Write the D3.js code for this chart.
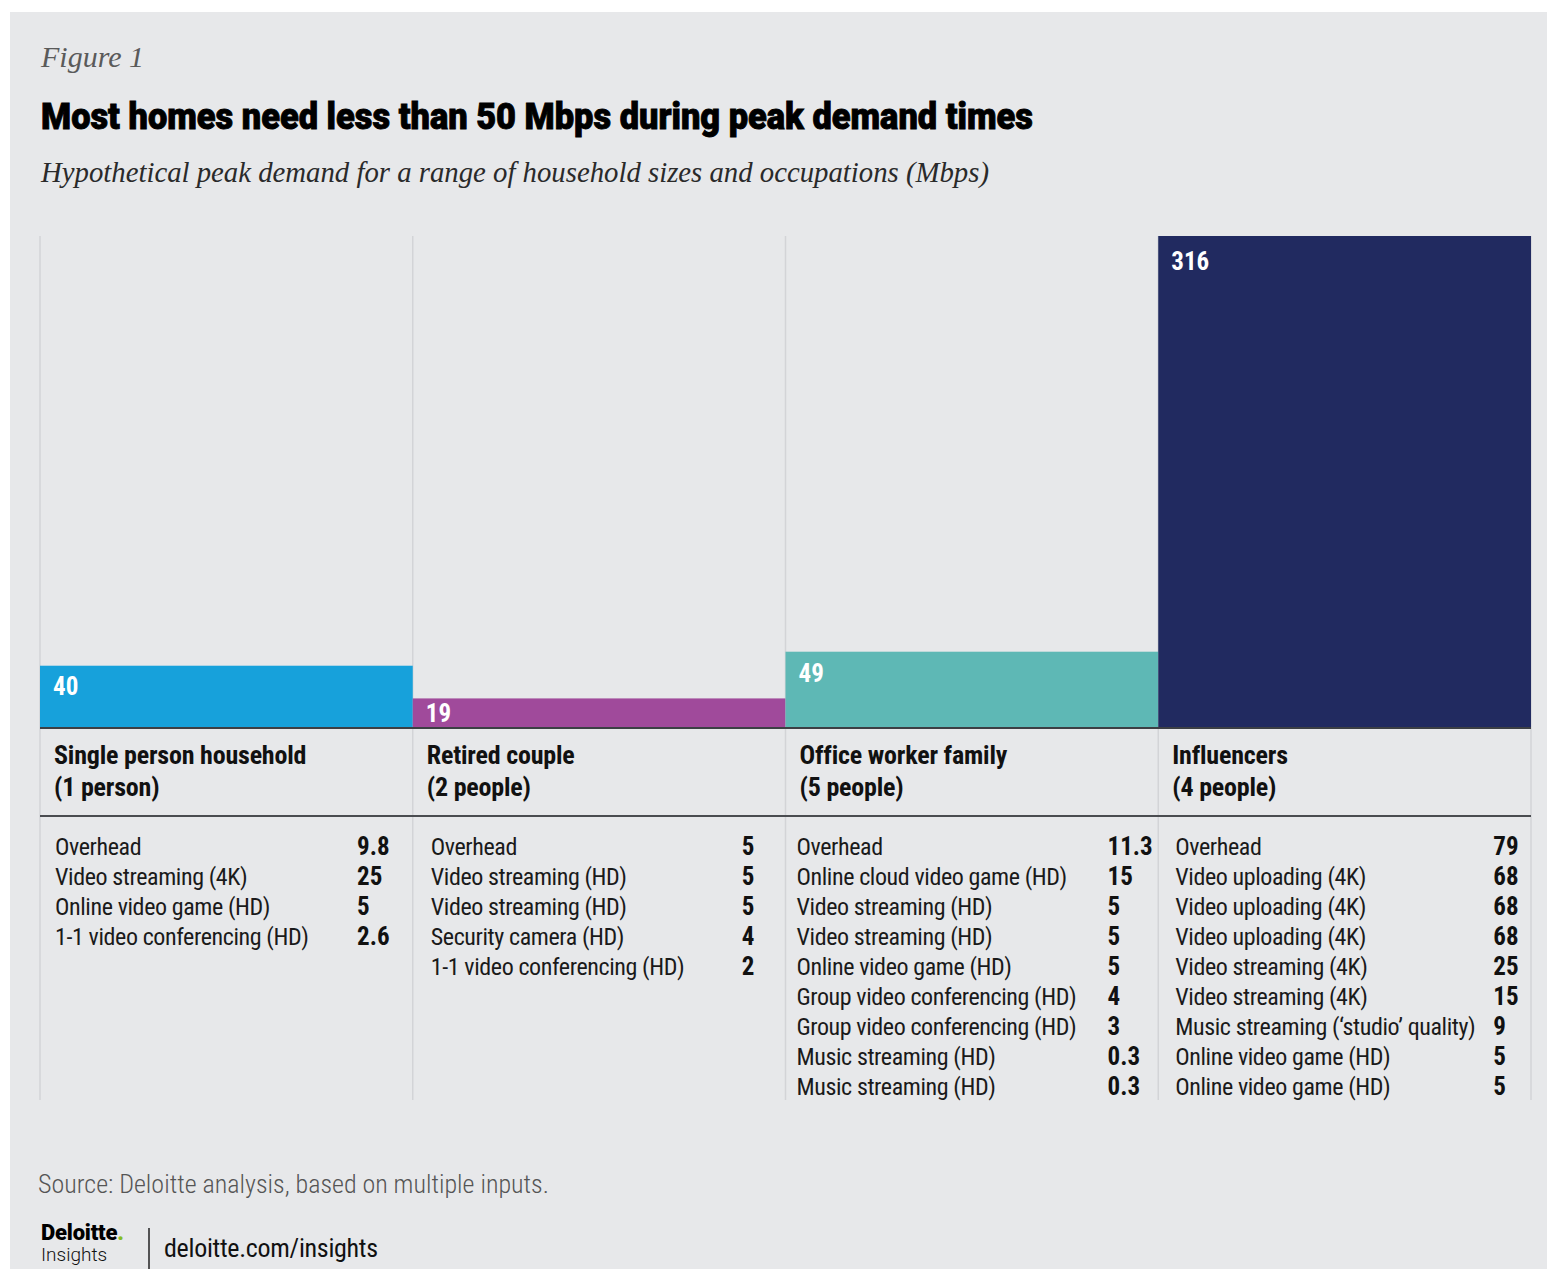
<!DOCTYPE html>
<html>
<head>
<meta charset="utf-8">
<script src="https://cdn.jsdelivr.net/npm/d3@7"></script>
<style>
  html, body { margin: 0; padding: 0; background: #ffffff; }
  svg { display: block; }
  .cond { font-family: "Liberation Sans Narrow", "Roboto Condensed", Roboto, sans-serif; }
  .serif { font-family: "Liberation Serif", "DejaVu Serif", serif; font-style: italic; }
</style>
</head>
<body>
<svg id="chart" width="1547" height="1269"></svg>
<script>
// Households and their peak demand totals (Mbps)
const households = ["Single person household", "Retired couple", "Office worker family", "Influencers"];
const householdSizes = ["(1 person)", "(2 people)", "(5 people)", "(4 people)"];
const peakDemand = [40, 19, 49, 316];
const barColors = ["#17a1db", "#a04a9b", "#5eb8b5", "#212a60"];

// Activity breakdown per household
const singleItems = ["Overhead", "Video streaming (4K)", "Online video game (HD)", "1-1 video conferencing (HD)"];
const singleValues = ["9.8", "25", "5", "2.6"];
const retiredItems = ["Overhead", "Video streaming (HD)", "Video streaming (HD)", "Security camera (HD)", "1-1 video conferencing (HD)"];
const retiredValues = ["5", "5", "5", "4", "2"];
const officeItems = ["Overhead", "Online cloud video game (HD)", "Video streaming (HD)", "Video streaming (HD)", "Online video game (HD)", "Group video conferencing (HD)", "Group video conferencing (HD)", "Music streaming (HD)", "Music streaming (HD)"];
const officeValues = ["11.3", "15", "5", "5", "5", "4", "3", "0.3", "0.3"];
const influencerItems = ["Overhead", "Video uploading (4K)", "Video uploading (4K)", "Video uploading (4K)", "Video streaming (4K)", "Video streaming (4K)", "Music streaming (\u2018studio\u2019 quality)", "Online video game (HD)", "Online video game (HD)"];
const influencerValues = ["79", "68", "68", "68", "25", "15", "9", "5", "5"];

const breakdown = [
  { items: singleItems, values: singleValues },
  { items: retiredItems, values: retiredValues },
  { items: officeItems, values: officeValues },
  { items: influencerItems, values: influencerValues }
];

const svg = d3.select("#chart");

// Panel background
svg.append("rect").attr("x", 10).attr("y", 12).attr("width", 1537).attr("height", 1257).attr("fill", "#e7e8ea");

// Headings
svg.append("text").attr("class", "serif").attr("x", 41).attr("y", 67)
  .attr("font-size", 30).attr("fill", "#5a5a5a").text("Figure 1");
svg.append("text").attr("x", 41).attr("y", 129)
  .attr("font-family", "Roboto, sans-serif").attr("font-weight", 900).attr("font-size", 37)
  .attr("fill", "#000").attr("stroke", "#000").attr("stroke-width", 0.9)
  .attr("textLength", 992).attr("lengthAdjust", "spacingAndGlyphs")
  .text("Most homes need less than 50 Mbps during peak demand times");
svg.append("text").attr("class", "serif").attr("x", 41).attr("y", 182)
  .attr("font-size", 29).attr("fill", "#2a2a2a").attr("textLength", 948).attr("lengthAdjust", "spacingAndGlyphs")
  .text("Hypothetical peak demand for a range of household sizes and occupations (Mbps)");

// Scales
const x = d3.scaleBand().domain(households).range([40, 1531]).padding(0);
const y = d3.scaleLinear().domain([0, 316]).range([728, 236]);

// Column separators
const edges = households.map(h => x(h)).concat([x.range()[1]]);
svg.append("g").selectAll("line").data(edges).join("line")
  .attr("x1", d => d).attr("x2", d => d).attr("y1", 236).attr("y2", 1100)
  .attr("stroke", "#d3d4d7").attr("stroke-width", 1.5);

// Bars
svg.append("g").selectAll("rect").data(households).join("rect")
  .attr("x", d => x(d)).attr("width", x.bandwidth())
  .attr("y", (d, i) => y(peakDemand[i]))
  .attr("height", (d, i) => y(0) - y(peakDemand[i]))
  .attr("fill", (d, i) => barColors[i]);

// Bar value labels
const labelDrop = [29, 24, 30, 34];
svg.append("g").selectAll("text").data(households).join("text")
  .attr("class", "cond")
  .attr("x", d => x(d) + 13)
  .attr("y", (d, i) => y(peakDemand[i]) + labelDrop[i])
  .attr("font-size", 25).attr("font-weight", 700).attr("fill", "#ffffff")
  .text((d, i) => peakDemand[i]);

// Baseline and header rule
svg.append("line").attr("x1", 40).attr("x2", 1531).attr("y1", y(0)).attr("y2", y(0))
  .attr("stroke", "#3c3f44").attr("stroke-width", 2);
svg.append("line").attr("x1", 40).attr("x2", 1531).attr("y1", 816).attr("y2", 816)
  .attr("stroke", "#4a4c50").attr("stroke-width", 2);

// Household names
const heads = svg.append("g").selectAll("text").data(households).join("text")
  .attr("class", "cond").attr("font-size", 26).attr("font-weight", 700).attr("fill", "#111")
  .attr("letter-spacing", -0.2);
heads.append("tspan").attr("x", d => x(d) + 14).attr("y", 764).text(d => d);
heads.append("tspan").attr("x", d => x(d) + 14).attr("y", 796).text((d, i) => householdSizes[i]);

// Activity tables
const itemOffsets = [15, 18, 11, 17];
const valueOffsets = [317, 329, 322, 335];
const rowStep = 30;
breakdown.forEach((col, ci) => {
  const g = svg.append("g");
  const x0 = x(households[ci]);
  g.selectAll("text.item").data(col.items).join("text")
    .attr("class", "cond item")
    .attr("x", x0 + itemOffsets[ci]).attr("y", (d, i) => 855 + i * rowStep)
    .attr("font-size", 24).attr("letter-spacing", -0.4).attr("fill", "#1a1a1a").text(d => d);
  g.selectAll("text.val").data(col.values).join("text")
    .attr("class", "cond val")
    .attr("x", x0 + valueOffsets[ci]).attr("y", (d, i) => 855 + i * rowStep)
    .attr("font-size", 25).attr("font-weight", 700).attr("fill", "#111").text(d => d);
});

// Footer
svg.append("text").attr("class", "cond").attr("x", 38).attr("y", 1193)
  .attr("font-size", 26).attr("font-weight", 300).attr("fill", "#555").text("Source: Deloitte analysis, based on multiple inputs.");
const logo = svg.append("text").attr("x", 41).attr("y", 1240)
  .attr("font-family", "Roboto, sans-serif").attr("font-size", 22).attr("font-weight", 900).attr("fill", "#000")
  .attr("letter-spacing", -0.2);
logo.append("tspan").text("Deloitte");
logo.append("tspan").attr("fill", "#86bc25").text(".");
svg.append("text").attr("x", 41).attr("y", 1261)
  .attr("font-family", "Roboto, sans-serif").attr("font-size", 19).attr("font-weight", 300).attr("fill", "#111")
  .text("Insights");
svg.append("line").attr("x1", 149).attr("x2", 149).attr("y1", 1228).attr("y2", 1269)
  .attr("stroke", "#222").attr("stroke-width", 1.5);
svg.append("text").attr("class", "cond").attr("x", 164).attr("y", 1257)
  .attr("font-size", 26).attr("letter-spacing", -0.3).attr("fill", "#111").text("deloitte.com/insights");
</script>
</body>
</html>
